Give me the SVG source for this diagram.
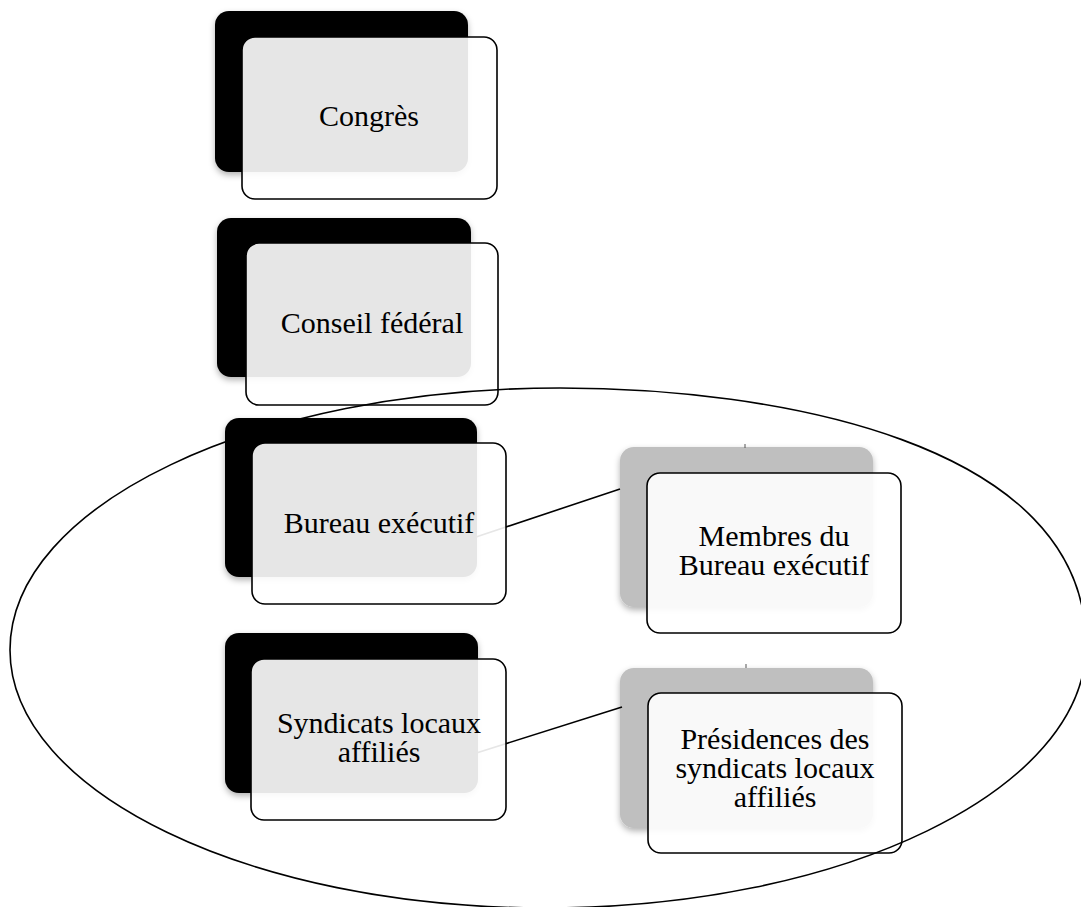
<svg xmlns="http://www.w3.org/2000/svg" width="1081" height="907" viewBox="0 0 1081 907">
  <defs>
    <filter id="soft" x="-10%" y="-10%" width="120%" height="125%">
      <feDropShadow dx="0" dy="3" stdDeviation="3" flood-color="#000" flood-opacity="0.3"/>
    </filter>
  </defs>
  <style>
    .back-dark { fill: #000; filter: url(#soft); }
    .back-light { fill: #bfbfbf; filter: url(#soft); }
    .front { fill: #fff; fill-opacity: 0.9; stroke: #000; stroke-width: 1.6; }
    .label { font-family: "Liberation Serif", "Times New Roman", serif; font-size: 30px; fill: #000; text-anchor: middle; }
    .link { stroke: #000; stroke-width: 1.6; fill: none; }
    .tick { stroke: #555; stroke-width: 1; fill: none; }
    .group-outline { fill: none; stroke: #000; stroke-width: 1.6; }
  </style>

  <rect width="1081" height="907" fill="#fff"/>

  <!-- back plates -->
  <g id="plates">
    <rect class="back-dark" x="215" y="11" width="253" height="161" rx="14"/>
    <rect class="back-dark" x="217" y="218" width="254" height="159" rx="14"/>
    <rect class="back-dark" x="225" y="418" width="252" height="159" rx="14"/>
    <rect class="back-dark" x="225" y="633" width="253" height="160" rx="14"/>
    <rect class="back-light" x="620" y="447" width="253" height="160" rx="14"/>
    <rect class="back-light" x="620" y="668" width="253" height="160" rx="14"/>
  </g>

  <!-- connectors -->
  <g id="connectors">
    <line class="link" x1="470" y1="539" x2="620" y2="489"/>
    <line class="link" x1="470" y1="755" x2="622" y2="707"/>
    <line class="tick" x1="745" y1="444" x2="745" y2="448"/>
    <line class="tick" x1="746" y1="664" x2="746" y2="668"/>
  </g>

  <!-- nodes -->
  <g id="node-congres">
    <rect class="front" x="242" y="37" width="255" height="162" rx="13"/>
    <text class="label" x="369" y="126">Congrès</text>
  </g>
  <g id="node-conseil">
    <rect class="front" x="246" y="243" width="252" height="162" rx="13"/>
    <text class="label" x="372" y="333">Conseil fédéral</text>
  </g>
  <g id="node-bureau">
    <rect class="front" x="252" y="443" width="254" height="161" rx="13"/>
    <text class="label" x="379" y="533">Bureau exécutif</text>
  </g>
  <g id="node-syndicats">
    <rect class="front" x="251" y="659" width="255" height="161" rx="13"/>
    <text class="label" x="379" y="733">Syndicats locaux<tspan x="379" dy="29">affiliés</tspan></text>
  </g>
  <g id="node-membres">
    <rect class="front" x="647" y="473" width="254" height="160" rx="13"/>
    <text class="label" x="774" y="546">Membres du<tspan x="774" dy="29">Bureau exécutif</tspan></text>
  </g>
  <g id="node-presidences">
    <rect class="front" x="648" y="693" width="254" height="160" rx="13"/>
    <text class="label" x="775" y="749">Présidences des<tspan x="775" dy="29">syndicats locaux</tspan><tspan x="775" dy="29">affiliés</tspan></text>
  </g>

  <!-- grouping outline around the executive level -->
  <g id="grouping">
    <path class="group-outline" d="M10,650 C10,505 256,388 560,388 C770,388 1086,440 1086,645 C1086,790 843,908 545,908 C250,908 10,792 10,650 Z"/>
  </g>
</svg>
